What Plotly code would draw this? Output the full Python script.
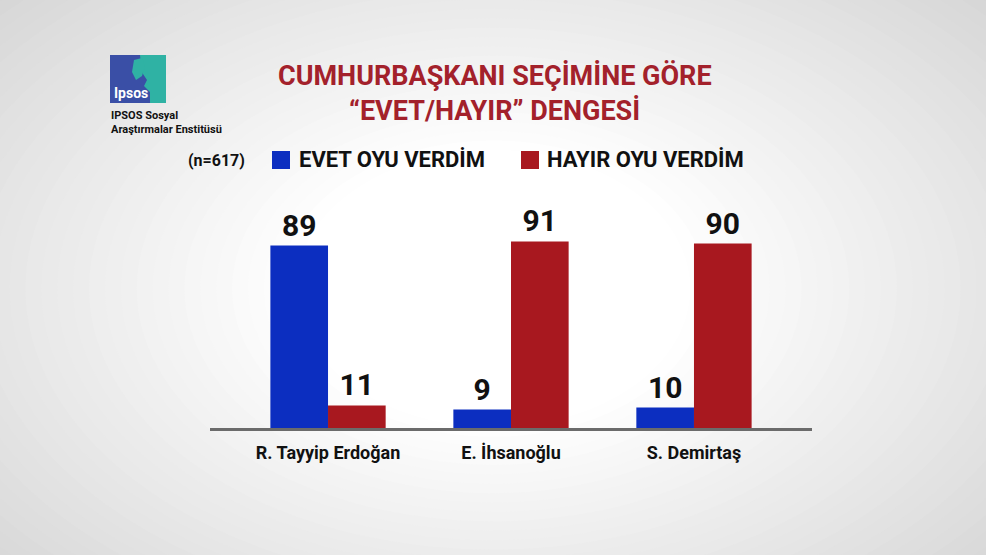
import plotly.graph_objects as go

W, H = 986, 555

candidates = ["R. Tayyip Erdoğan", "E. İhsanoğlu", "S. Demirtaş"]
evet = [89, 9, 10]
hayir = [11, 91, 90]
series_names = ["EVET OYU VERDİM", "HAYIR OYU VERDİM"]
sample_note = "(n=617)"
title_lines = ["CUMHURBAŞKANI SEÇİMİNE GÖRE", "“EVET/HAYIR” DENGESİ"]
logo_caption = ["IPSOS Sosyal", "Araştırmalar Enstitüsü"]

BLUE = "#0c2ec0"
RED = "#a8181f"
TITLE_RED = "#a3212b"
FONT = "Roboto, Liberation Sans, sans-serif"


def px(x):
    return x / W


def py(y):
    return 1 - y / H


fig = go.Figure()
for vals, name, col in [(evet, series_names[0], BLUE), (hayir, series_names[1], RED)]:
    fig.add_trace(go.Bar(
        x=candidates, y=vals, name=name, marker_color=col, marker_line_width=0,
        text=vals, texttemplate="<b>%{text}</b>", textposition="outside", cliponaxis=False,
        textfont=dict(size=30, color="#111", family=FONT),
        hoverinfo="skip",
    ))

shapes = []
# radial-ish background gradient
n = 32
for i in range(n):
    t = i / (n - 1)
    g = int(round(0xd6 + (0xff - 0xd6) * t))
    col = f"rgb({g},{g},{g})"
    rx = 1.40 - 1.0 * t
    ry = 1.55 - 1.05 * t
    cx, cy = 0.5, 0.48
    if i == 0:
        shapes.append(dict(type="rect", xref="paper", yref="paper", x0=0, x1=1, y0=0, y1=1,
                           fillcolor=col, line_width=0, layer="below"))
    shapes.append(dict(type="circle", xref="paper", yref="paper",
                       x0=cx - rx / 2, x1=cx + rx / 2, y0=cy - ry / 2, y1=cy + ry / 2,
                       fillcolor=col, line_width=0, layer="below"))

# logo
shapes.append(dict(type="rect", xref="paper", yref="paper",
                   x0=px(110), x1=px(166), y0=py(103), y1=py(55),
                   fillcolor="#3a4fa6", line_width=0, layer="below"))
shapes.append(dict(type="path", xref="paper", yref="paper",
                   path=f"M {px(140)},{py(55)} L {px(166)},{py(55)} L {px(166)},{py(103)} "
                        f"L {px(150)},{py(103)} L {px(150)},{py(92)} L {px(144)},{py(86)} "
                        f"L {px(147)},{py(80)} L {px(143)},{py(74)} L {px(141)},{py(64)} Z",
                   fillcolor="#2fb2a4", line_width=0, layer="below"))
shapes.append(dict(type="path", xref="paper", yref="paper",
                   path=f"M {px(134)},{py(60)} L {px(142)},{py(58)} L {px(145)},{py(66)} "
                        f"L {px(142)},{py(76)} L {px(136)},{py(80)} L {px(132)},{py(72)} Z",
                   fillcolor="#2fb2a4", line_width=0, layer="below"))

# legend swatches
shapes.append(dict(type="rect", xref="paper", yref="paper",
                   x0=px(272), x1=px(290), y0=py(169), y1=py(151),
                   fillcolor=BLUE, line_width=0))
shapes.append(dict(type="rect", xref="paper", yref="paper",
                   x0=px(521), x1=px(539), y0=py(169), y1=py(151),
                   fillcolor=RED, line_width=0))


def ann(text, x, y, size, color="#111", anchor="left", family=FONT):
    return dict(text=text, x=px(x), y=py(y), xref="paper", yref="paper", showarrow=False,
                font=dict(size=size, color=color, family=family),
                xanchor=anchor, yanchor="middle")


annotations = [
    ann(f"<b>{title_lines[0]}</b>", 495, 76, 27, TITLE_RED, "center"),
    ann(f"<b>{title_lines[1]}</b>", 495, 111, 27, TITLE_RED, "center"),
    ann("<b>Ipsos</b>", 112, 93, 14, "white"),
    ann(f"<b>{logo_caption[0]}</b>", 109, 116, 11),
    ann(f"<b>{logo_caption[1]}</b>", 109, 129, 11),
    ann(f"<b>{sample_note}</b>", 186, 161, 16),
    ann(f"<b>{series_names[0]}</b>", 297, 160, 22),
    ann(f"<b>{series_names[1]}</b>", 545, 160, 22),
]

fig.update_layout(
    width=W, height=H,
    margin=dict(l=0, r=0, t=0, b=0),
    paper_bgcolor="#e6e6e6",
    plot_bgcolor="rgba(0,0,0,0)",
    barmode="group", bargap=0.37, bargroupgap=0,
    showlegend=False,
    shapes=shapes,
    annotations=annotations,
    font=dict(family=FONT, color="#111"),
)
fig.update_xaxes(
    domain=[px(210), px(812)], range=[-0.645, 2.645],
    showline=True, linecolor="#6b6b6b", linewidth=3, ticks="",
    tickfont=dict(size=18, color="#111", family=FONT), showgrid=False,
    ticklabelstandoff=6,
    tickvals=candidates, ticktext=[f"<b>{c}</b>" for c in candidates],
)
fig.update_yaxes(
    domain=[py(428), py(223)], range=[0, 100], visible=False, showgrid=False,
)

fig.write_html(
    "out.html",
    config={"displayModeBar": False},
    post_script="document.body.style.margin='0';document.body.style.overflow='hidden';",
)
